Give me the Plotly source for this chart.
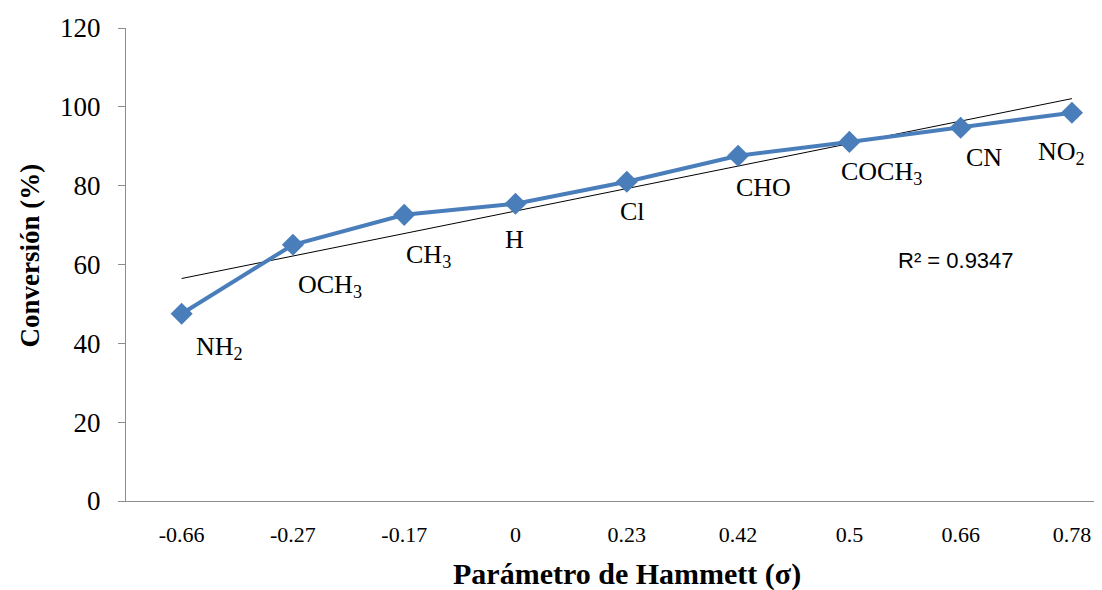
import numpy as np
import plotly.graph_objects as go

sigma_labels = ["-0.66", "-0.27", "-0.17", "0", "0.23", "0.42", "0.5", "0.66", "0.78"]
substituents = ["NH<sub>2</sub>", "OCH<sub>3</sub>", "CH<sub>3</sub>", "H", "Cl", "CHO",
                "COCH<sub>3</sub>", "CN", "NO<sub>2</sub>"]
conversion = [47.5, 65.0, 72.6, 75.4, 81.0, 87.6, 91.1, 94.7, 98.5]
r2_text = "R² = 0.9347"
x_title = "<b>Parámetro de Hammett (σ)</b>"
y_title = "<b>Conversión (%)</b>"

# label offsets in pixels (style)
label_shift = [(38, -34), (37, -41), (24, -41), (-1, -36), (6, -30), (25, -32), (32, -31), (23, -30), (-10, -40)]

idx = np.arange(len(sigma_labels))
slope, intercept = np.polyfit(idx, conversion, 1)
trend = slope * idx + intercept

fig = go.Figure()
fig.add_trace(go.Scatter(x=idx, y=trend, mode="lines",
                         line=dict(color="black", width=1), hoverinfo="skip", showlegend=False))
fig.add_trace(go.Scatter(x=idx, y=conversion, mode="lines+markers",
                         line=dict(color="#4A7EBB", width=4),
                         marker=dict(symbol="diamond", size=17, color="#4A7EBB"),
                         showlegend=False))

serif = '"Liberation Serif", "Times New Roman", serif'
for i, (lab, (dx, dy)) in enumerate(zip(substituents, label_shift)):
    fig.add_annotation(x=idx[i], y=conversion[i], text=lab, showarrow=False,
                       xshift=dx, yshift=dy, font=dict(family=serif, size=26, color="black"))

fig.add_annotation(x=7, y=61, text=r2_text, showarrow=False, xshift=-5,
                   font=dict(family='"Liberation Sans", Arial, sans-serif', size=22, color="black"))

# axis titles
fig.add_annotation(xref="paper", yref="paper", x=0.513, y=-0.154, text=x_title, showarrow=False,
                   xanchor="center", yanchor="middle", font=dict(family=serif, size=30, color="black"))
fig.add_annotation(xref="paper", yref="paper", x=-0.098, y=0.52, text=y_title, showarrow=False,
                   textangle=-90, xanchor="center", yanchor="middle",
                   font=dict(family=serif, size=27, color="black"))

fig.update_layout(
    width=1094, height=582,
    margin=dict(l=118, r=0, t=20, b=89),
    plot_bgcolor="white", paper_bgcolor="white",
    xaxis=dict(range=[-0.5, 8.27], tickmode="array", tickvals=idx, ticktext=sigma_labels,
               showgrid=False, zeroline=False, showline=True, linecolor="#8c8c8c", linewidth=1,
               ticks="", ticklabelstandoff=14, tickfont=dict(family=serif, size=22, color="black")),
    yaxis=dict(range=[0, 120], dtick=20, showgrid=False, zeroline=False, showline=True,
               linecolor="#8c8c8c", linewidth=1, ticks="outside", ticklen=7, tickcolor="#8c8c8c",
               ticklabelstandoff=12,
               tickfont=dict(family=serif, size=27, color="black")),
)

fig.write_html("out.html")
